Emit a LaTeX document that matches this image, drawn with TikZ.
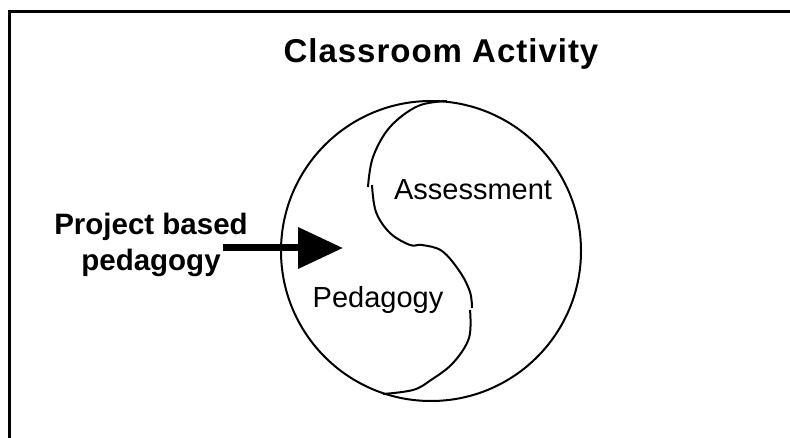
\documentclass[tikz,border=0pt]{standalone}
\usepackage{fontspec}
\setmainfont{Liberation Sans}
\newfontfamily\spacedfont[LetterSpace=3]{Liberation Sans}
\usetikzlibrary{arrows.meta}

\begin{document}
\begin{tikzpicture}[
  x=1pt, y=-1pt,
  frame/.style={draw, line width=3pt},
  heading/.style={anchor=base, inner sep=0pt, font=\spacedfont\bfseries\fontsize{33}{38}\selectfont},
  sidetext/.style={anchor=base, inner sep=0pt, align=center, font=\bfseries\fontsize{29.5}{36}\selectfont},
  part/.style={anchor=base, inner sep=0pt, font=\fontsize{29}{34}\selectfont},
  whole/.style={draw, circle, line width=2pt, minimum size=300pt, inner sep=0pt},
  swirl/.style={line width=2pt},
  thrust/.style={line width=7pt, -{Triangle[length=45pt, width=40pt]}}
]
\useasboundingbox (0,0) rectangle (790,438);
\draw[frame] (9,12) rectangle (800,450);

\node[heading] (title) at (441,63) {Classroom Activity};
\node[whole] (yinyang) at (431,251) {};

\draw[swirl] plot[smooth, tension=0.6] coordinates {(447,101) (418,106) (390,127) (373,157) (368,187)};
\draw[swirl] plot[smooth, tension=0.6] coordinates {(372,185) (376,212) (390,233) (410,245) (422,245) (442,251) (460,272) (470,292) (472,308)};
\draw[swirl] plot[smooth, tension=0.6] coordinates {(470,310) (469,338) (453,363) (431,380) (413,390) (383,394)};

\node[part] (assess) at (473,200) {Assessment};
\node[part] (peda) at (378,308) {Pedagogy};

\node[sidetext] (project) at (151,271) {Project based\\pedagogy};
\coordinate (push) at (223,248);
\coordinate (tip) at (343,248);
\draw[thrust] (push) -- (tip);
\end{tikzpicture}
\end{document}
